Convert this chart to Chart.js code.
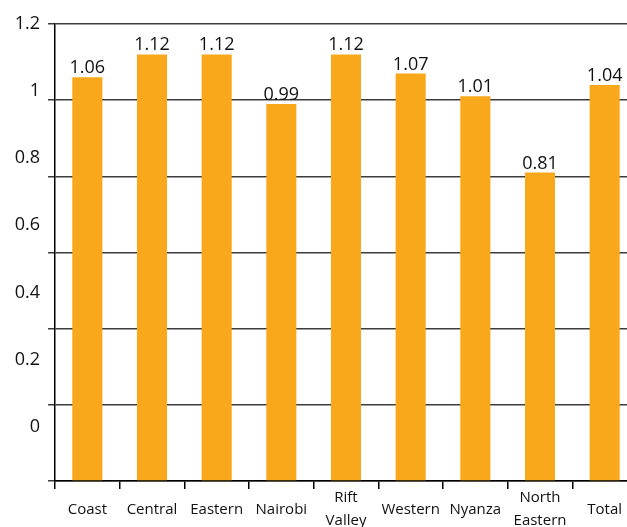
<!DOCTYPE html>
<html>
<head>
<meta charset="utf-8">
<script src="https://cdn.jsdelivr.net/npm/chart.js@4/dist/chart.umd.min.js"></script>
<style>
  html, body { margin: 0; padding: 0; background: #fff; overflow: hidden; }
  #wrap { position: relative; width: 640px; height: 552px; }
</style>
</head>
<body>
<div id="wrap"><canvas id="chart"></canvas></div>
<script>
var regions = ["Coast", "Central", "Eastern", "Nairobi", ["Rift", "Valley"], "Western", "Nyanza", ["North", "Eastern"], "Total"];
var ratios = [1.06, 1.12, 1.12, 0.99, 1.12, 1.07, 1.01, 0.81, 1.04];
var yTicks = [0, 0.2, 0.4, 0.6, 0.8, 1, 1.2];

var barOrange = "#f9a71b";
var fontFamily = '"Open Sans", "DejaVu Sans", sans-serif';

// value labels above each bar
var barValues = {
  id: "barValues",
  afterDatasetsDraw: function (chart) {
    var ctx = chart.ctx;
    var meta = chart.getDatasetMeta(0);
    ctx.save();
    ctx.font = "18px " + fontFamily;
    ctx.fillStyle = "#111";
    ctx.textAlign = "center";
    ctx.textBaseline = "alphabetic";
    meta.data.forEach(function (bar, i) {
      ctx.fillText(ratios[i].toFixed(2), bar.x, bar.y - 4);
    });
    ctx.restore();
  }
};

new Chart(document.getElementById("chart"), {
  type: "bar",
  data: {
    labels: regions,
    datasets: [{
      data: ratios,
      backgroundColor: barOrange,
      borderWidth: 0,
      barPercentage: 0.465,
      categoryPercentage: 1
    }]
  },
  options: {
    responsive: true,
    maintainAspectRatio: false,
    animation: false,
    layout: { padding: { left: 7, top: 24, right: 3, bottom: 0 } },
    plugins: { legend: { display: false }, tooltip: { enabled: false } },
    scales: {
      x: {
        grid: { offset: true, drawOnChartArea: false, tickLength: 8, color: "#000", lineWidth: 1.5 },
        border: { color: "#000", width: 1.5 },
        ticks: {
          autoSkip: false,
          maxRotation: 0,
          padding: 9,
          crossAlign: "center",
          color: "#111",
          font: { family: fontFamily, size: 15, lineHeight: 1.5 }
        }
      },
      y: {
        min: 0,
        max: 1.2,
        weight: 0,
        grid: { color: "#3c3c3c", lineWidth: 1.5, tickLength: 7 },
        border: { color: "#000", width: 1.5 },
        ticks: { display: false, stepSize: 0.2 },
        afterFit: function (scale) { scale.width = 7; }
      },
      yl: {
        position: "left",
        weight: 1,
        min: -0.162,
        max: 1.2,
        grid: { display: false, drawTicks: false },
        border: { display: false },
        afterBuildTicks: function (scale) {
          scale.ticks = yTicks.map(function (v) { return { value: v }; });
        },
        afterFit: function (scale) { scale.width = 41; },
        ticks: {
          padding: 8,
          color: "#111",
          font: { family: fontFamily, size: 18 },
          callback: function (v) { return String(Math.round(v * 10) / 10); }
        }
      }
    }
  },
  plugins: [barValues]
});
</script>
</body>
</html>
